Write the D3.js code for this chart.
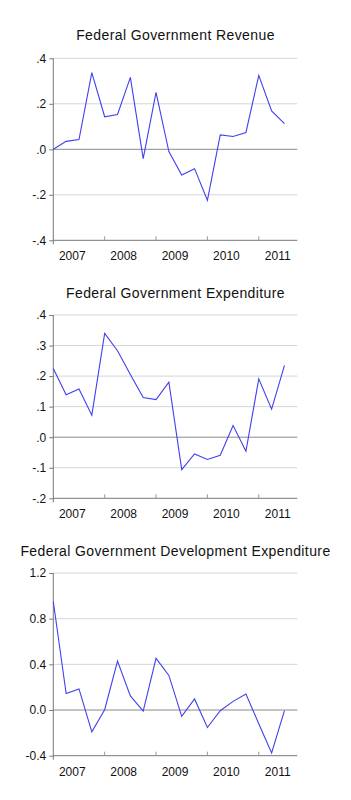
<!DOCTYPE html>
<html><head><meta charset="utf-8">
<script src="https://cdn.jsdelivr.net/npm/d3@7"></script>
<style>body{margin:0;background:#fff;}svg{display:block;font-family:"Liberation Sans",Arial,sans-serif;}</style>
</head><body><svg id="c" width="351" height="800"></svg>
<script>
const quarters = ["2007Q1","2007Q2","2007Q3","2007Q4","2008Q1","2008Q2","2008Q3","2008Q4","2009Q1","2009Q2","2009Q3","2009Q4","2010Q1","2010Q2","2010Q3","2010Q4","2011Q1","2011Q2","2011Q3"];
const yearLabels = ["2007","2008","2009","2010","2011"];
const revenue = [0.0,0.035,0.043,0.337,0.143,0.153,0.316,-0.041,0.25,-0.01,-0.113,-0.085,-0.224,0.063,0.056,0.074,0.325,0.169,0.113];
const expenditure = [0.225,0.139,0.158,0.072,0.340,0.283,0.205,0.130,0.123,0.180,-0.106,-0.055,-0.073,-0.059,0.038,-0.046,0.191,0.092,0.235];
const devExpenditure = [0.95,0.144,0.185,-0.191,0.003,0.429,0.124,-0.009,0.453,0.303,-0.056,0.097,-0.153,-0.006,0.076,0.141,-0.12,-0.376,-0.006];
const revTicks = [-0.4,-0.2,0,0.2,0.4], revTickLabels = ["-.4","-.2",".0",".2",".4"];
const expTicks = [-0.2,-0.1,0,0.1,0.2,0.3,0.4], expTickLabels = ["-.2","-.1",".0",".1",".2",".3",".4"];
const devTicks = [-0.4,0,0.4,0.8,1.2], devTickLabels = ["-0.4","0.0","0.4","0.8","1.2"];
const titles = ["Federal Government Revenue","Federal Government Expenditure","Federal Government Development Expenditure"];

const FONT = "'Liberation Sans', Arial, sans-serif";
const svg = d3.select("#c");
const panels = [
  {title:titles[0], data:revenue, ticks:revTicks, labels:revTickLabels, top:58.3, bottom:240.3, titleY:40},
  {title:titles[1], data:expenditure, ticks:expTicks, labels:expTickLabels, top:315, bottom:498.3, titleY:298},
  {title:titles[2], data:devExpenditure, ticks:devTicks, labels:devTickLabels, top:573, bottom:755.7, titleY:556}
];
const left = 53.3, right = 297.3;
const x = d3.scaleLinear().domain([0, 19]).range([left, right]);

panels.forEach(p => {
  const g = svg.append("g");
  const y = d3.scaleLinear().domain([p.ticks[0], p.ticks[p.ticks.length-1]]).range([p.bottom, p.top]);
  g.append("text").attr("x",175.5).attr("y",p.titleY).attr("text-anchor","middle")
    .attr("font-size",14).attr("font-family",FONT).attr("fill","#111").attr("letter-spacing",0.4).text(p.title);
  p.ticks.forEach(t => {
    if (t === p.ticks[0]) return;
    g.append("line").attr("x1",left).attr("x2",right).attr("y1",y(t)).attr("y2",y(t))
      .attr("stroke", t===0 ? "#8a8a8a" : "#d6d6d6").attr("stroke-width",1);
  });
  const ya = d3.axisLeft(y).tickValues(p.ticks).tickFormat((d,i)=>p.labels[i]).tickSize(4).tickPadding(3);
  const yg = g.append("g").attr("transform",`translate(${left},0)`).call(ya);
  yg.select(".domain").attr("stroke","#777").attr("d",`M-0,${p.top}V${p.bottom+4}`);
  yg.selectAll(".tick line").attr("stroke","#777");
  yg.selectAll("text").attr("font-size",12).attr("fill","#111").attr("font-family",FONT);
  g.append("line").attr("x1",left).attr("x2",right).attr("y1",p.bottom).attr("y2",p.bottom).attr("stroke","#777");
  yearLabels.forEach((lab,i) => {
    const xi = x(i*4);
    if (i>0) g.append("line").attr("x1",xi).attr("x2",xi).attr("y1",p.bottom).attr("y2",p.bottom-4).attr("stroke","#999");
    g.append("text").attr("x",xi+19).attr("y",p.bottom+20).attr("text-anchor","middle")
      .attr("font-size",12).attr("font-family",FONT).attr("fill","#111").text(lab);
  });
  const line = d3.line().x((d,i)=>x(i)).y(d=>y(d));
  g.append("path").datum(p.data).attr("d",line).attr("fill","none").attr("stroke","#4040f0").attr("stroke-width",1.1);
});
</script></body></html>
